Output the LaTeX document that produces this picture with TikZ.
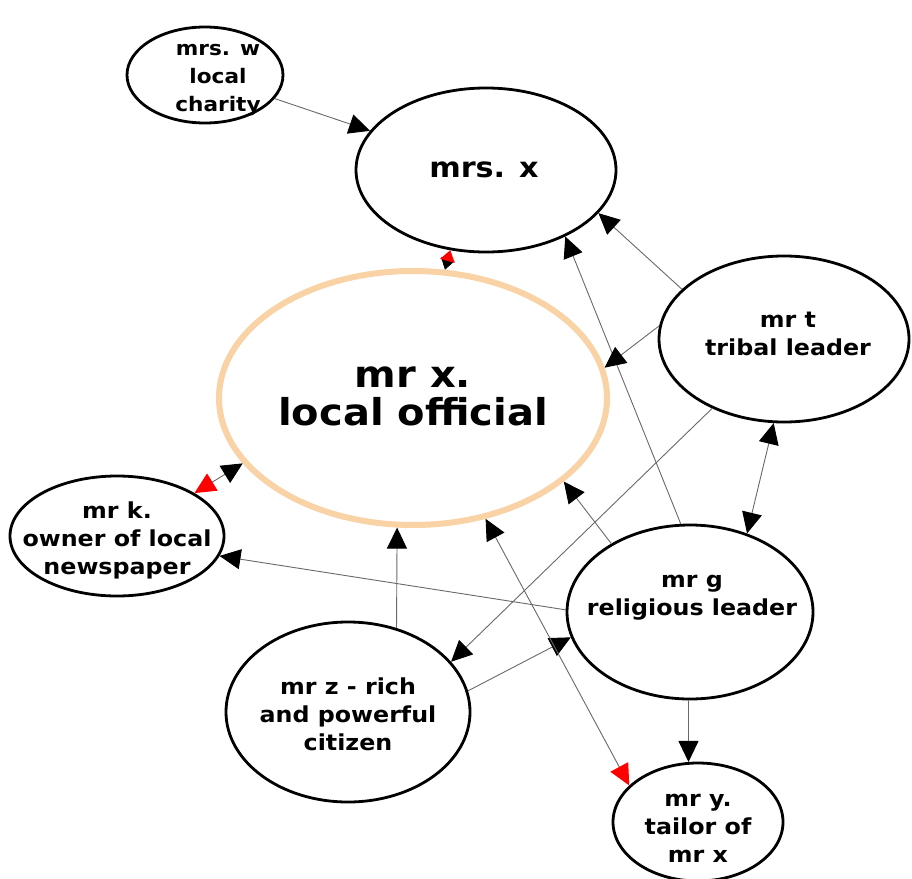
\documentclass[tikz,border=0pt]{standalone}
\usepackage{fontspec}
\setmainfont{DejaVu Sans}[FakeStretch=1.08]
\usetikzlibrary{shapes.geometric,arrows.meta}
\definecolor{peach}{RGB}{249,210,165}
\definecolor{conncol}{RGB}{105,105,105}
\tikzset{
  blk/.tip={Triangle[length=21pt,width=20pt,color=black,fill=black]},
  rd/.tip={Triangle[length=21pt,width=20pt,color=red,fill=red]},
  sblk/.tip={Triangle[length=11pt,width=14pt,color=black,fill=black]},
  srd/.tip={Triangle[length=11pt,width=15pt,color=red,fill=red]},
}
\begin{document}
\begin{tikzpicture}[x=1pt,y=-1pt,
  bub/.style={ellipse,draw=black,line width=2.8pt,inner sep=0pt,fill=white},
  mainbub/.style={ellipse,draw=peach,line width=6pt,inner sep=0pt,fill=white},
  txt/.style={align=center,font=\bfseries\fontsize{22}{28}\selectfont},
  bigtxt/.style={align=center,font=\bfseries\fontsize{37}{38}\selectfont},
  conn/.style={draw=conncol,line width=0.9pt},
]
\useasboundingbox (0,0) rectangle (912,878);
\fill[white] (0,0) rectangle (912,878);

% bubbles
\node[bub, minimum width=156pt, minimum height=96pt] (mrsw) at (205,75) {};
\node[bub, minimum width=260pt, minimum height=164pt] (mrsx) at (486,170) {};
\node[mainbub, minimum width=388pt, minimum height=254pt] (mrx) at (413,398) {};
\node[bub, minimum width=250pt, minimum height=166pt] (mrt) at (784,339) {};
\node[bub, minimum width=214pt, minimum height=120pt] (mrk) at (117,536) {};
\node[bub, minimum width=246pt, minimum height=174pt] (mrg) at (690,612) {};
\node[bub, minimum width=244pt, minimum height=180pt] (mrz) at (348,712) {};
\node[bub, minimum width=170pt, minimum height=118pt] (mry) at (698,822) {};

% texts
\node[txt, font=\bfseries\fontsize{20}{28}\selectfont] (tmrsw) at (218,80) {mrs. w\\local\\charity};
\node[txt, font=\bfseries\fontsize{28}{34}\selectfont] (tmrsx) at (484,170) {mrs. x};
\node[bigtxt] (tmrx) at (413,396) {mr x.\\local official};
\node[txt] (tmrt) at (788,334) {mr t\\tribal leader};
\node[txt] (tmrk) at (117,540) {mr k.\\owner of local\\newspaper};
\node[txt] (tmrg) at (692,598) {mr g\\religious leader};
\node[txt] (tmrz) at (348,714) {mr z - rich\\and powerful\\citizen};
\node[txt] (tmry) at (698,828) {mr y.\\tailor of\\mr x};

% connectors
\draw[conn,-blk] (mrsw) -- (mrsx);
\draw[conn,sblk-srd] (mrx.76.7) -- (mrsx.246);
\draw[conn,-blk] (mrt.154) -- (mrsx.-21);
\draw[conn,-blk] (mrg.96.4) -- (mrsx.-40.8);
\draw[conn,-blk] (mrt.174.5) -- (mrx.9.3);
\draw[conn,-blk] (mrt.-136) -- (mrz.26);
\draw[conn,blk-blk] (mrt.-97.8) -- (mrg.54.7);
\draw[conn,blk-rd] (mrx.201) -- (mrk.29.7);
\draw[conn,-blk] (mrg.179) -- (mrk.-11.2);
\draw[conn,-blk] (mrz.60) -- (mrx.-97.5);
\draw[conn,-blk] (mrg.139) -- (mrx.-29);
\draw[conn,-blk] (mrz.10.9) -- (mrg.192.4);
\draw[conn,blk-rd] (mrx.-59.4) -- (mry.152);
\draw[conn,-blk] (mrg.-91) -- (mry.99);
\end{tikzpicture}
\end{document}
